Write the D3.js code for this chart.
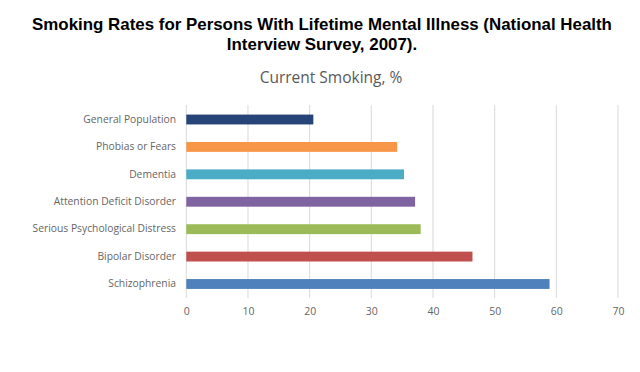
<!DOCTYPE html>
<html><head><meta charset="utf-8">
<script src="https://cdn.jsdelivr.net/npm/d3@7"></script>
<style>body{margin:0;background:#fff}svg{display:block}</style>
</head><body><svg id="c" width="640" height="372"></svg>
<script>
const categories = ["General Population","Phobias or Fears","Dementia","Attention Deficit Disorder","Serious Psychological Distress","Bipolar Disorder","Schizophrenia"];
const values = [20.6, 34.2, 35.3, 37.1, 38.0, 46.4, 58.9];
const colors = ["#264478","#F79646","#4BACC6","#8064A2","#9BBB59","#C0504D","#4F81BD"];
const xTicks = [0,10,20,30,40,50,60,70];

const svg = d3.select("#c");
const x = d3.scaleLinear().domain([0,70]).range([186.3,618]);
const y = d3.scaleBand().domain(categories).range([105.8,297.7]).paddingInner(0.64).paddingOuter(0.32);

const tf = "Liberation Sans, Arial, sans-serif";
svg.append("text").attr("x",322).attr("y",30).attr("text-anchor","middle")
  .attr("font-family",tf).attr("font-weight","bold").attr("font-size",16.9)
  .attr("fill","#000").text("Smoking Rates for Persons With Lifetime Mental Illness (National Health");
svg.append("text").attr("x",322).attr("y",50).attr("text-anchor","middle")
  .attr("font-family",tf).attr("font-weight","bold").attr("font-size",16.9)
  .attr("fill","#000").text("Interview Survey, 2007).");
svg.append("text").attr("x",331).attr("y",83).attr("text-anchor","middle")
  .attr("font-family","Open Sans, sans-serif").attr("font-size",15.5)
  .attr("fill","#595959").text("Current Smoking, %");

// gridlines
svg.append("g").selectAll("line").data(xTicks).join("line")
  .attr("x1",d=>x(d)).attr("x2",d=>x(d)).attr("y1",105).attr("y2",298)
  .attr("stroke","#d9d9d9").attr("stroke-width",1);

const xAxis = d3.axisBottom(x).tickValues(xTicks).tickSize(0).tickPadding(0);
const gx = svg.append("g").attr("transform","translate(0,308)").call(xAxis);
gx.select(".domain").remove();
gx.selectAll("text").attr("font-family","Open Sans, sans-serif").attr("font-size",10.5).attr("fill","#666");

const yAxis = d3.axisLeft(y).tickSize(0).tickPadding(0);
const gy = svg.append("g").attr("transform","translate(176,0)").call(yAxis);
gy.select(".domain").remove();
gy.selectAll("text").attr("font-family","Open Sans, sans-serif").attr("font-size",10.3).attr("fill","#666");

svg.append("g").selectAll("rect").data(categories).join("rect")
  .attr("x",x(0)).attr("y",d=>y(d)).attr("height",y.bandwidth())
  .attr("width",(d,i)=>x(values[i])-x(0)).attr("fill",(d,i)=>colors[i]);
</script></body></html>
